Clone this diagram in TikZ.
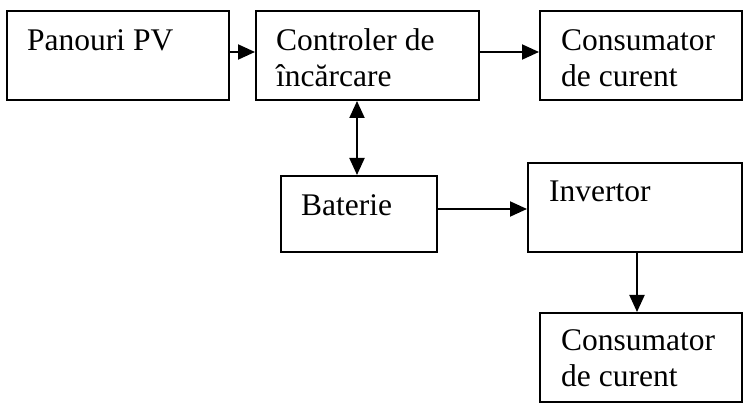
\documentclass[tikz,border=0pt]{standalone}
\usepackage{fontspec}
\setmainfont{Liberation Serif}
\usetikzlibrary{arrows.meta,calc}

\begin{document}
\begin{tikzpicture}[x=1pt,y=1pt,
  box/.style={draw,line width=2pt,inner sep=0pt,rectangle},
  txt/.style={anchor=base west,inner sep=0pt,align=left,font=\fontsize{31.5}{36}\selectfont},
  arr/.style={line width=2pt,-{Triangle[length=17pt,width=15pt]}},
  ]
\useasboundingbox (0,0) rectangle (745,-403);

% blocuri
\node[box,minimum width=222,minimum height=89] (pv) at (118,-55.5) {};
\node[box,minimum width=223,minimum height=89] (ctrl) at (367.5,-55.5) {};
\node[box,minimum width=202,minimum height=89] (cons) at (641,-55.5) {};
\node[box,minimum width=156,minimum height=76] (bat) at (359,-214) {};
\node[box,minimum width=214,minimum height=89] (inv) at (635,-207.5) {};
\node[box,minimum width=202,minimum height=89] (consb) at (641,-357.5) {};

% texte (base = ultimul rand)
\node[txt] (pvtxt) at ($(pv.north west)+(21,-41)$) {Panouri PV};
\node[txt] (ctrltxt) at ($(ctrl.north west)+(21,-77)$) {Controler de\\încărcare};
\node[txt] (constxt) at ($(cons.north west)+(22,-77)$) {Consumator\\de curent};
\node[txt] (battxt) at ($(bat.north west)+(21,-41)$) {Baterie};
\node[txt] (invtxt) at ($(inv.north west)+(22,-40)$) {Invertor};
\node[txt] (consbtxt) at ($(consb.north west)+(22,-75)$) {Consumator\\de curent};

% legaturi
\draw[arr] ([yshift=3.5]pv.east) -- ([yshift=3.5]ctrl.west);
\draw[arr] ([yshift=3.5]ctrl.east) -- ([yshift=3.5]cons.west);
\draw[arr,{Triangle[length=17pt,width=15pt]}-{Triangle[length=17pt,width=15pt]}] ([xshift=-2]bat.north) -- ([xshift=-2]bat.north |- ctrl.south);
\draw[arr] ([yshift=5]bat.east) -- ([yshift=5]bat.east -| inv.west);
\draw[arr] ([xshift=2]inv.south) -- ([xshift=2]inv.south |- consb.north);
\end{tikzpicture}
\end{document}
